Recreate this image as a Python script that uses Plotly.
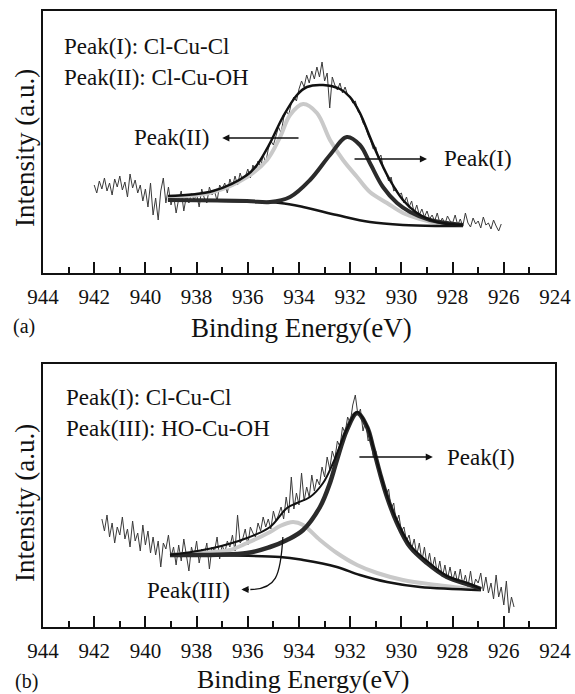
import numpy as np
import plotly.graph_objects as go

FONT = "Liberation Serif"
INK = "#111111"

# ---------------- panel (a) ----------------
a_raw_start, a_raw_step = 942.0, 0.1
a_raw_I = [
    88, 80, 92, 84, 95, 82, 90, 78, 94, 86,
    97, 83, 91, 76, 99, 85, 93, 80, 88, 72,
    84, 66, 90, 58, 75, 53, 82, 95, 70, 86,
    68, 78, 60, 74, 82, 62, 77, 70, 80, 73,
    79, 66, 84, 75, 70, 86, 78, 82, 72, 88,
    84, 90, 80, 94, 86, 97, 88, 100, 92, 96,
    104, 95, 108, 101, 112, 106, 118, 110, 124, 132,
    128, 138, 146, 140, 155, 162, 158, 170, 176, 172,
    184, 192, 186, 198, 190, 202, 194, 206, 196, 211,
    192, 200, 165, 196, 188, 183, 190, 180, 186, 178,
    176, 170, 172, 162, 158, 150, 146, 138, 132, 124,
    126, 114, 118, 104, 100, 92, 96, 82, 84, 78,
    80, 70, 76, 66, 72, 60, 68, 58, 64, 56,
    62, 54, 58, 52, 60, 50, 55, 49, 57, 52,
    50, 58, 48, 54, 47, 60, 50, 46, 55, 49,
    52, 45, 56, 48, 50, 44, 53, 47, 42, 49,
]

a_bg_E = [939.12, 936.03, 934.74, 933.84, 932.52, 931.23, 929.94, 928.61, 927.59]
a_bg_I = [73, 71.5, 70, 66, 58, 51, 48, 47, 47]

a_p1_E = [939.12, 936.03, 935.13, 934.35, 933.57, 932.79, 932.13, 931.62, 931.23,
          930.72, 930.17, 929.66, 928.88, 927.59]
a_p1_I = [73, 72, 71, 76, 93, 118, 136, 128, 110, 86, 70, 61, 53, 48]

a_p2_E = [939.12, 937.36, 936.03, 935.25, 934.74, 934.35, 933.84, 933.30, 932.79,
          932.28, 931.73, 931.23, 930.56, 929.94, 929.27, 928.61, 927.59]
a_p2_I = [76, 81, 96, 113, 136, 158, 169, 160, 133, 113, 96, 81, 70, 60, 54, 50, 48]

a_env_E = [939.12, 937.36, 936.03, 935.64, 935.13, 934.63, 934.08, 933.69, 933.06,
           932.40, 932.01, 931.62, 931.23, 930.84, 930.45, 929.94, 929.39, 928.61, 927.59]
a_env_I = [77, 82, 98, 108, 130, 156, 178, 186, 188, 184, 176, 160, 136, 113, 93,
           73, 60, 51, 48]

# ---------------- panel (b) ----------------
b_raw_start, b_raw_step = 941.7, 0.1
b_raw_I = [
    108, 96, 112, 90, 104, 84, 100, 92, 110, 88,
    98, 80, 106, 86, 94, 76, 102, 82, 96, 74,
    90, 72, 86, 60, 84, 78, 92, 70, 80, 62,
    82, 66, 88, 74, 56, 80, 70, 86, 64, 78,
    72, 84, 58, 80, 76, 90, 68, 82, 74, 86,
    80, 92, 76, 112, 84, 88, 98, 82, 100, 94,
    90, 104, 96, 110, 100, 108, 98, 116, 106, 112,
    120, 108, 130, 114, 150, 118, 134, 122, 154, 126,
    140, 130, 152, 136, 148, 142, 160, 150, 170, 158,
    176, 168, 186, 180, 200, 194, 210, 204, 222, 232,
    212, 218, 196, 206, 186, 190, 170, 176, 160, 150,
    146, 132, 138, 118, 124, 104, 112, 96, 100, 86,
    92, 78, 88, 72, 84, 66, 80, 62, 74, 58,
    70, 54, 66, 50, 62, 48, 60, 46, 56, 44,
    58, 42, 52, 40, 56, 38, 48, 44, 54, 36,
    50, 34, 44, 28, 52, 30, 40, 22, 46, 14,
    30, 20,
]

b_bg_E = [939.04, 934.74, 933.84, 932.52, 931.62, 930.56, 929.27, 926.89]
b_bg_I = [72, 70, 67, 60, 52, 45, 40, 37]

b_p1_E = [939.04, 936.03, 935.13, 934.47, 933.84, 933.18, 932.79, 932.52, 932.13,
          931.73, 931.34, 931.11, 930.84, 930.56, 930.17, 929.66, 929.0, 928.22,
          927.32, 926.89]
b_p1_I = [72, 74, 80, 87, 97, 120, 144, 167, 197, 214, 200, 180, 154, 130, 104, 80,
          64, 50, 42, 38]

b_p3_E = [939.04, 937.36, 936.70, 936.03, 935.13, 934.74, 934.23, 933.84, 933.18,
          932.52, 931.73, 930.95, 929.94, 928.61, 926.89]
b_p3_I = [72, 75, 77, 84, 95, 101, 105, 102, 87, 74, 62, 54, 47, 42, 37]

b_env_E = [939.04, 937.36, 936.03, 935.13, 934.47, 934.08, 933.57, 933.06, 932.67,
           932.13, 931.73, 931.34, 931.11, 930.84, 930.56, 930.17, 929.66, 929.0,
           928.22, 927.32, 926.89]
b_env_I = [72, 79, 89, 100, 119, 124, 130, 144, 164, 198, 215, 201, 181, 155, 131,
           106, 82, 66, 51, 43, 38]

x_ticks = [944, 942, 940, 938, 936, 934, 932, 930, 928, 926, 924]

a_E = np.round(a_raw_start - a_raw_step * np.arange(len(a_raw_I)), 2)
b_E = np.round(b_raw_start - b_raw_step * np.arange(len(b_raw_I)), 2)

W, H = 575, 694


def px(x):
    return x / W


def py(y):
    return 1 - y / H


fig = go.Figure()


def add_panel(xa, ya, rawE, rawI, comps):
    fig.add_trace(go.Scatter(x=rawE, y=rawI, mode="lines", xaxis=xa, yaxis=ya,
                             line=dict(color="#3a3a3a", width=1), showlegend=False,
                             hoverinfo="skip"))
    for (E, I, col, w) in comps:
        fig.add_trace(go.Scatter(x=E, y=I, mode="lines", xaxis=xa, yaxis=ya,
                                 line=dict(color=col, width=w, shape="spline", smoothing=1.0),
                                 showlegend=False, hoverinfo="skip"))


add_panel("x", "y", a_E, a_raw_I, [
    (a_p2_E, a_p2_I, "#c9c9c9", 4),
    (a_bg_E, a_bg_I, "#151515", 2.5),
    (a_p1_E, a_p1_I, "#2b2b2b", 4),
    (a_env_E, a_env_I, "#111111", 2.5),
])
add_panel("x2", "y2", b_E, b_raw_I, [
    (b_p3_E, b_p3_I, "#c9c9c9", 4),
    (b_bg_E, b_bg_I, "#151515", 2.5),
    (b_p1_E, b_p1_I, "#2b2b2b", 4.5),
    (b_env_E, b_env_I, "#111111", 2),
])

xdom = [px(43), px(555)]
xcommon = dict(range=[944, 924], tickvals=x_ticks, ticks="inside", ticklen=11,
               tickwidth=2, tickcolor=INK, showline=True, linewidth=2, linecolor=INK,
               mirror=True, showgrid=False, zeroline=False, automargin=False,
               tickfont=dict(family=FONT, size=21, color=INK),
               minor=dict(dtick=1, tick0=924, ticks="inside", ticklen=6, tickwidth=2,
                          tickcolor=INK, showgrid=False),
               ticklabelstandoff=4, domain=xdom)
ycommon = dict(showticklabels=False, ticks="", showline=True, linewidth=2,
               linecolor=INK, mirror=True, showgrid=False, zeroline=False,
               automargin=False)

fig.update_layout(
    width=W, height=H,
    margin=dict(l=0, r=0, t=0, b=0, pad=0, autoexpand=False),
    paper_bgcolor="white", plot_bgcolor="white",
    font=dict(family=FONT, color=INK),
    showlegend=False,
    xaxis=dict(**xcommon, anchor="y"),
    yaxis=dict(**ycommon, range=[0, 262], domain=[py(273), py(11)], anchor="x"),
    xaxis2=dict(**xcommon, anchor="y2"),
    yaxis2=dict(**ycommon, range=[0, 263], domain=[py(627), py(364)], anchor="x2"),
)

ann = []


def txt(text, x, y, size, xanchor="center", xref="paper", yref="paper", angle=0):
    ann.append(dict(text=text, x=x, y=y, xref=xref, yref=yref, xanchor=xanchor,
                    yanchor="middle", showarrow=False, textangle=angle,
                    font=dict(family=FONT, size=size, color=INK)))


def arrow(x0, x1, y, xr, yr):
    ann.append(dict(text="", x=x1, y=y, ax=x0, ay=y, xref=xr, yref=yr, axref=xr,
                    ayref=yr, showarrow=True, arrowhead=2, arrowsize=1.1,
                    arrowwidth=1.3, arrowcolor=INK, standoff=0, startstandoff=0))


# panel (a) texts
txt("Peak(I): Cl-Cu-Cl", px(62), py(46), 23, "left")
txt("Peak(II): Cl-Cu-OH", px(62), py(78), 23, "left")
txt("Intensity (a.u.)", px(25), py(148), 27, angle=-90)
txt("Binding Energy(eV)", px(301), py(328), 27)
txt("(a)", px(24), py(327), 20)
txt("Peak(II)", 937.45, 135, 23, "right", "x", "y")
arrow(933.96, 937.0, 135, "x", "y")
txt("Peak(I)", 928.4, 114, 23, "left", "x", "y")
arrow(931.89, 929.0, 114, "x", "y")

# panel (b) texts
txt("Peak(I): Cl-Cu-Cl", px(64), py(397), 23, "left")
txt("Peak(III): HO-Cu-OH", px(64), py(428), 23, "left")
txt("Intensity (a.u.)", px(25), py(503), 27, angle=-90)
txt("Binding Energy(eV)", px(303), py(679), 26)
txt("(b)", px(26), py(681), 20)
txt("Peak(I)", 928.28, 170, 23, "left", "x2", "y2")
arrow(931.70, 928.77, 170, "x2", "y2")
txt("Peak(III)", 938.3, 37, 23, "center", "x2", "y2")
arrow(935.9, 936.25, 37.5, "x2", "y2")

fig.update_layout(annotations=ann)
fig.add_shape(type="path", xref="x2", yref="y2",
              path="M 934.63,90 C 934.72,50 934.9,38 935.9,37.5",
              line=dict(color=INK, width=1.3))

fig.write_html("out.html", config={"displayModeBar": False},
               post_script="document.body.style.margin='0';document.body.style.overflow='hidden';")
